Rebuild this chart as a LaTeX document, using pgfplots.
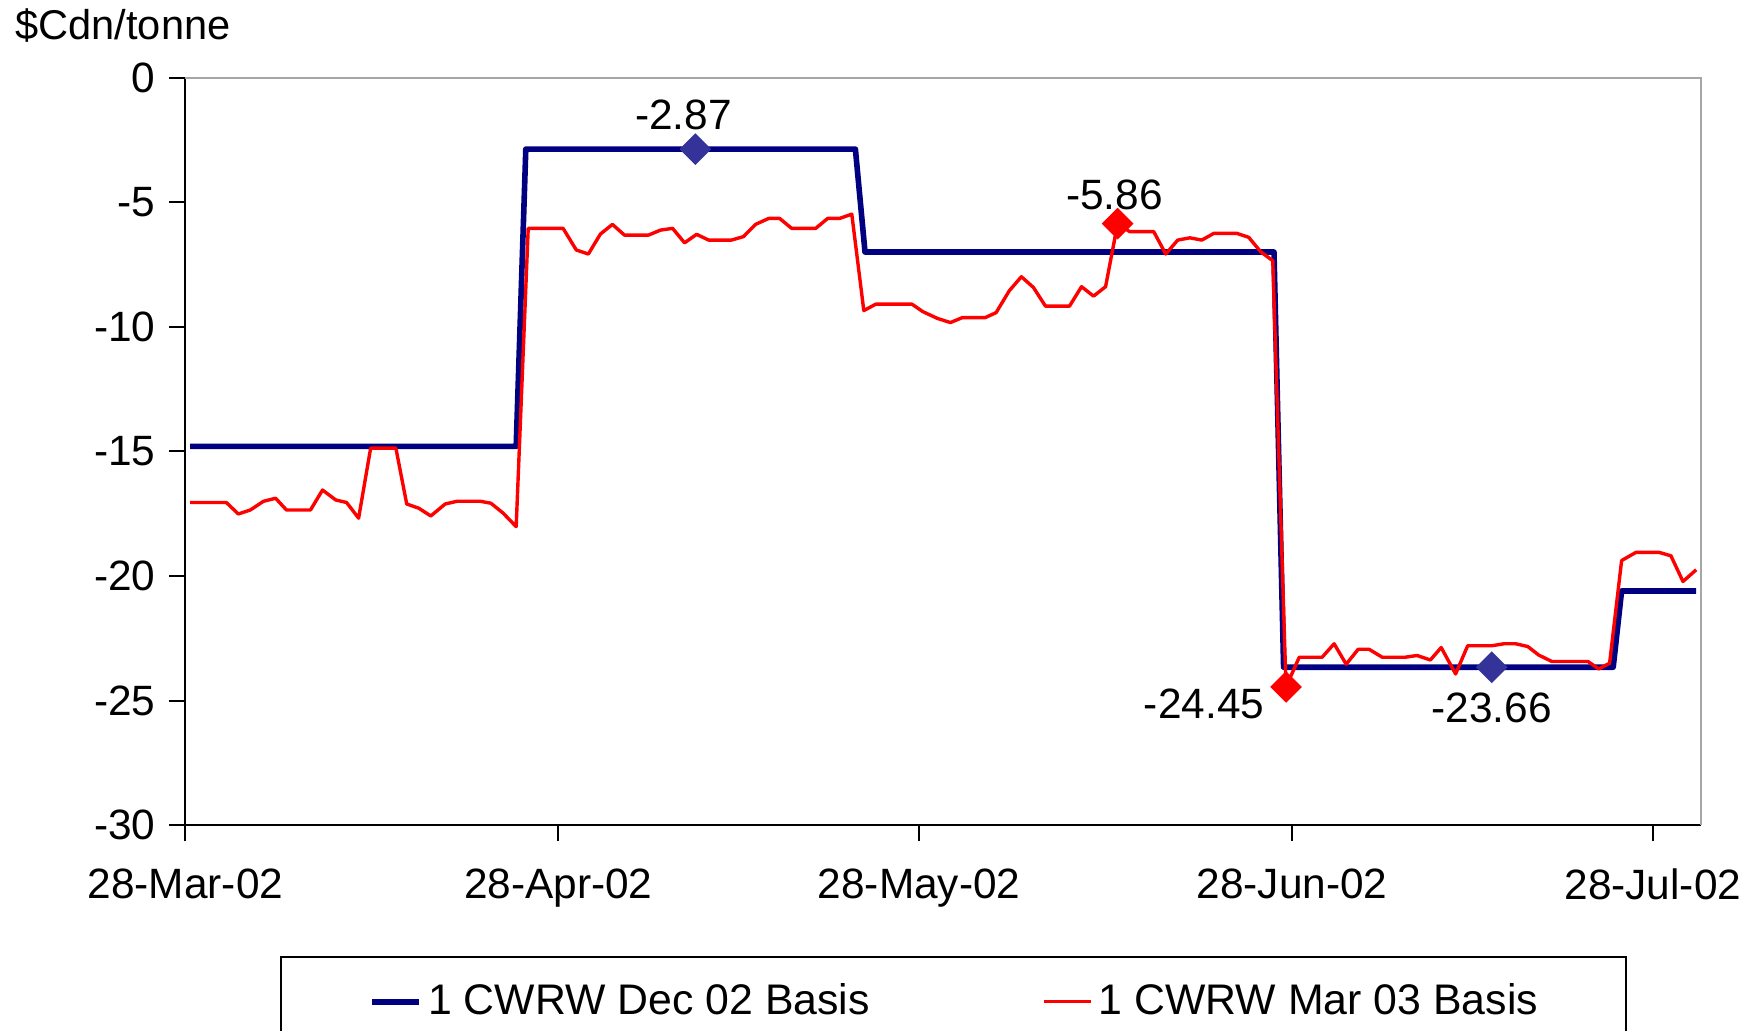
\documentclass[border=0pt]{standalone}
\usepackage{pgfplots}
\pgfplotsset{compat=1.18}
\usepackage{fontspec}
\setmainfont{Liberation Sans}
\definecolor{navyline}{HTML}{000080}
\definecolor{bluemark}{HTML}{333399}
\begin{document}
\begin{tikzpicture}[font=\fontsize{10.4bp}{12.5bp}\selectfont]
\begin{axis}[
  name=ax,
  scale only axis,
  width=378.9bp, height=186.9bp,
  xmin=0, xmax=126, ymin=-30, ymax=0,
  xtick={0,31,61,92,122},
  xticklabels={28-Mar-02,28-Apr-02,28-May-02,28-Jun-02,28-Jul-02},
  ytick={-30,-25,-20,-15,-10,-5,0},
  /pgf/number format/assume math mode=true,
  axis x line*=bottom, axis y line*=left,
  axis line style={-, black, line width=0.5bp},
  tick align=outside,
  major tick length=4bp,
  tick style={black, line width=0.5bp},
  tick label style={font=\fontsize{10.6bp}{12.5bp}\selectfont},
  xticklabel style={yshift=-3.3bp},
  clip=false,
  legend columns=2,
  legend style={at={(0.5068,-0.1753)}, anchor=north, draw=black, line width=0.5bp,
    inner xsep=22bp, inner ysep=6.5bp, nodes={inner sep=0pt},
    /tikz/every odd column/.append style={column sep=1.6bp},
    /tikz/every even column/.append style={column sep=43bp},
    font=\fontsize{10.7bp}{12.5bp}\selectfont},
  legend image code/.code={\draw[#1] (0bp,0bp) -- (11.8bp,0bp);},
]
\draw[gray!70, line width=0.5bp] (rel axis cs:0,1) -- (rel axis cs:1,1) -- (rel axis cs:1,0);

\addplot[navyline, line width=1.4bp, line join=round, mark=none] coordinates {
(0.4,-14.8) (27.5,-14.8) (28.3,-2.87) (55.7,-2.87) (56.5,-7.0) (90.5,-7.0)
(91.3,-23.66) (118.7,-23.66) (119.4,-20.6) (125.6,-20.6)
};
\addlegendentry{1 CWRW Dec 02 Basis}

\addplot[red, line width=0.85bp, line join=round, mark=none] coordinates {
(0.4,-17.05) (3.4,-17.05) (4.4,-17.51) (5.4,-17.35) (6.5,-17.0) (7.5,-16.88)
(8.4,-17.35) (10.4,-17.35) (11.4,-16.55) (12.5,-16.95) (13.4,-17.05) (14.4,-17.68)
(15.4,-14.87) (17.5,-14.87) (18.4,-17.11) (19.4,-17.28) (20.4,-17.59) (21.6,-17.11)
(22.6,-17.0) (24.5,-17.0) (25.4,-17.08) (26.4,-17.47) (27.5,-18.02)
(28.5,-6.05) (31.4,-6.05) (32.5,-6.92) (33.5,-7.08) (34.5,-6.28) (35.5,-5.89)
(36.5,-6.32) (38.5,-6.32) (39.5,-6.12) (40.5,-6.05) (41.5,-6.63) (42.5,-6.29)
(43.5,-6.52) (45.4,-6.52) (46.4,-6.38) (47.4,-5.89) (48.5,-5.65) (49.4,-5.65)
(50.4,-6.05) (52.4,-6.05) (53.4,-5.65) (54.4,-5.65) (55.4,-5.48)
(56.4,-9.35) (57.4,-9.09) (60.4,-9.09) (61.3,-9.39) (62.5,-9.66) (63.6,-9.83)
(64.6,-9.63) (66.5,-9.63) (67.4,-9.43) (68.5,-8.55) (69.5,-7.99) (70.5,-8.42)
(71.5,-9.17) (73.5,-9.17) (74.5,-8.39) (75.5,-8.77) (76.5,-8.39) (77.5,-5.86)
(78.5,-6.18) (80.5,-6.18) (81.5,-7.08) (82.5,-6.52) (83.5,-6.43) (84.5,-6.52)
(85.5,-6.25) (87.4,-6.25) (88.4,-6.41) (89.4,-6.99) (90.4,-7.35)
(91.5,-24.45) (92.6,-23.26) (94.5,-23.26) (95.5,-22.72) (96.5,-23.54) (97.5,-22.94)
(98.4,-22.94) (99.5,-23.26) (101.4,-23.26) (102.4,-23.19) (103.5,-23.37) (104.4,-22.87)
(105.6,-23.93) (106.6,-22.80) (108.6,-22.80) (109.6,-22.72) (110.6,-22.72) (111.6,-22.83)
(112.5,-23.17) (113.6,-23.43) (116.6,-23.43) (117.5,-23.73) (118.4,-23.50)
(119.4,-19.38) (120.6,-19.05) (122.5,-19.05) (123.5,-19.19) (124.5,-20.22) (125.6,-19.75)
};
\addlegendentry{1 CWRW Mar 03 Basis}

\addplot[only marks, mark=square*, mark size=2.6bp, mark options={rotate=45, fill=bluemark, draw=bluemark}, forget plot]
  coordinates {(42.4,-2.87) (108.6,-23.66)};
\addplot[only marks, mark=square*, mark size=2.6bp, mark options={rotate=45, fill=red, draw=red}, forget plot]
  coordinates {(77.5,-5.86) (91.5,-24.45)};

\node[inner sep=0pt, anchor=center, font=\fontsize{10.6bp}{12.5bp}\selectfont] at (axis cs:41.4,-1.49) {-2.87};
\node[inner sep=0pt, anchor=center, font=\fontsize{10.6bp}{12.5bp}\selectfont] at (axis cs:77.25,-4.71) {-5.86};
\node[inner sep=0pt, anchor=east, font=\fontsize{10.6bp}{12.5bp}\selectfont] at (axis cs:89.75,-25.15) {-24.45};
\node[inner sep=0pt, anchor=center, font=\fontsize{10.6bp}{12.5bp}\selectfont] at (axis cs:108.6,-25.29) {-23.66};
\end{axis}
\node[inner sep=0pt, anchor=west] at ([xshift=-42.7bp, yshift=13.1bp]ax.north west) {\$Cdn/tonne};
\pgfresetboundingbox
\path ([xshift=-46.35bp, yshift=-51.25bp]ax.south west) rectangle ([xshift=15.25bp, yshift=19.4bp]ax.north east);
\end{tikzpicture}
\end{document}
